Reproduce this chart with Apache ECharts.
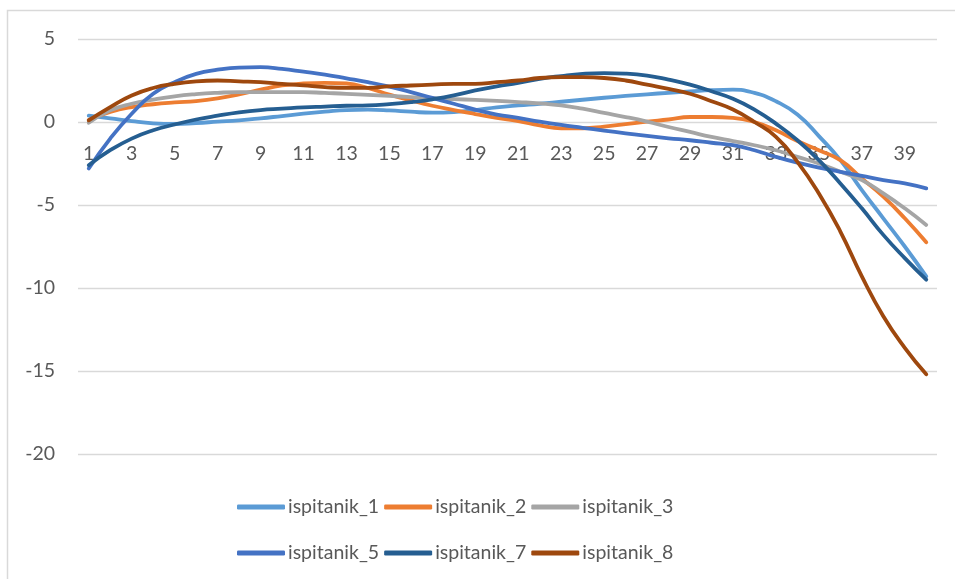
<!DOCTYPE html>
<html>
<head>
<meta charset="utf-8">
<script src="https://cdn.jsdelivr.net/npm/echarts@6/dist/echarts.min.js"></script>
<style>
  html, body { margin: 0; padding: 0; background: #ffffff; }
  #chart { width: 955px; height: 579px; }
</style>
</head>
<body>
<div id="chart"></div>
<script>
// Measurement index 1..40
const categories = Array.from({ length: 40 }, (_, i) => String(i + 1));

const seriesNames = ['ispitanik_1', 'ispitanik_2', 'ispitanik_3', 'ispitanik_5', 'ispitanik_7', 'ispitanik_8'];

const ispitanik_1 = [0.38, 0.22, 0.05, -0.08, -0.12, -0.06, 0.02, 0.1, 0.22, 0.36,
  0.5, 0.62, 0.72, 0.74, 0.7, 0.62, 0.56, 0.6, 0.72, 0.88,
  1.0, 1.1, 1.22, 1.34, 1.46, 1.57, 1.67, 1.76, 1.84, 1.92,
  1.95, 1.75, 1.25, 0.45, -0.85, -2.3, -4.1, -5.8, -7.5, -9.3];

const ispitanik_2 = [0.12, 0.6, 0.9, 1.07, 1.18, 1.26, 1.42, 1.66, 1.95, 2.2,
  2.32, 2.36, 2.32, 2.05, 1.65, 1.3, 0.98, 0.72, 0.48, 0.25,
  0.05, -0.2, -0.38, -0.38, -0.28, -0.13, 0.02, 0.15, 0.3, 0.3,
  0.25, 0.0, -0.5, -1.15, -1.7, -2.3, -3.4, -4.5, -5.8, -7.25];

const ispitanik_3 = [-0.05, 0.7, 1.1, 1.35, 1.55, 1.68, 1.76, 1.8, 1.8, 1.8,
  1.8, 1.75, 1.7, 1.63, 1.57, 1.5, 1.43, 1.38, 1.33, 1.27,
  1.2, 1.12, 1.0, 0.8, 0.55, 0.3, 0.02, -0.3, -0.6, -0.9,
  -1.15, -1.4, -1.7, -2.1, -2.5, -3.0, -3.5, -4.3, -5.2, -6.2];

const ispitanik_5 = [-2.8, -1.0, 0.5, 1.7, 2.4, 2.9, 3.15, 3.28, 3.3, 3.2,
  3.03, 2.85, 2.63, 2.4, 2.13, 1.8, 1.45, 1.1, 0.75, 0.45,
  0.25, 0.02, -0.18, -0.35, -0.52, -0.68, -0.84, -0.98, -1.1, -1.25,
  -1.4, -1.7, -2.1, -2.45, -2.75, -3.0, -3.25, -3.5, -3.7, -4.0];

const ispitanik_7 = [-2.6, -1.7, -1.0, -0.5, -0.15, 0.15, 0.38, 0.58, 0.72, 0.8,
  0.88, 0.93, 0.98, 1.0, 1.08, 1.2, 1.37, 1.6, 1.9, 2.15,
  2.35, 2.6, 2.77, 2.9, 2.95, 2.92, 2.8, 2.55, 2.25, 1.85,
  1.4, 0.75, -0.1, -1.1, -2.3, -3.7, -5.2, -6.8, -8.2, -9.5];

const ispitanik_8 = [0.1, 0.9, 1.6, 2.05, 2.3, 2.45, 2.5, 2.45, 2.4, 2.3,
  2.2, 2.1, 2.05, 2.05, 2.15, 2.2, 2.25, 2.3, 2.3, 2.4,
  2.5, 2.65, 2.7, 2.7, 2.65, 2.5, 2.25, 2.0, 1.7, 1.25,
  0.75, 0.0, -0.9, -2.4, -4.3, -6.6, -9.3, -11.7, -13.6, -15.2];

const seriesValues = [ispitanik_1, ispitanik_2, ispitanik_3, ispitanik_5, ispitanik_7, ispitanik_8];
const seriesColors = ['#5B9BD5', '#ED7D31', '#A5A5A5', '#4472C4', '#255E91', '#9E480E'];

const yMin = -20;
const yMax = 5;
const yStep = 5;

const textColor = '#595959';
const fontFamily = 'Lato, "Open Sans", sans-serif';
const fontSize = 19.5;

const gridTop = 39;
const gridBottom = 125;
const chartHeight = 579;
// Lift the category axis from the bottom edge up to the value 0 line.
const plotHeight = chartHeight - gridTop - gridBottom;
const zeroOffset = -plotHeight * (0 - yMin) / (yMax - yMin);

const chart = echarts.init(document.getElementById('chart'), null, { renderer: 'canvas' });

const legendBase = {
  orient: 'horizontal',
  icon: 'roundRect',
  itemWidth: 48,
  itemHeight: 5,
  itemGap: 5,
  textStyle: { color: textColor, fontSize: fontSize, fontFamily: fontFamily, padding: [0, 0, 0, -2] }
};

chart.setOption({
  animation: false,
  color: seriesColors,
  graphic: [{
    type: 'rect',
    shape: { x: 7.5, y: 10.5, width: 1000, height: 700 },
    style: { fill: 'none', stroke: '#D9D9D9', lineWidth: 1.5 },
    silent: true
  }],
  grid: { left: 78, right: 18, top: gridTop, bottom: gridBottom, containLabel: false },
  legend: [
    Object.assign({}, legendBase, { data: seriesNames.slice(0, 3), left: 232, top: 492 }),
    Object.assign({}, legendBase, { data: seriesNames.slice(3), left: 232, top: 538 })
  ],
  xAxis: {
    type: 'category',
    data: categories,
    boundaryGap: true,
    position: 'bottom',
    offset: zeroOffset,
    axisLine: { show: false, onZero: false },
    axisTick: { show: false },
    axisLabel: {
      interval: 1,
      margin: 22,
      color: textColor,
      fontSize: fontSize,
      fontFamily: fontFamily
    },
    splitLine: { show: false }
  },
  yAxis: {
    type: 'value',
    min: yMin,
    max: yMax,
    interval: yStep,
    axisLine: { show: false },
    axisTick: { show: false },
    axisLabel: {
      margin: 23,
      color: textColor,
      fontSize: fontSize,
      fontFamily: fontFamily
    },
    splitLine: { lineStyle: { color: '#D9D9D9', width: 1.3 } }
  },
  series: seriesNames.map((name, i) => ({
    name: name,
    type: 'line',
    data: seriesValues[i],
    smooth: 0.5,
    symbol: 'none',
    lineStyle: { width: 3.8, color: seriesColors[i], cap: 'round', join: 'round' },
    itemStyle: { color: seriesColors[i] }
  }))
});
</script>
</body>
</html>
